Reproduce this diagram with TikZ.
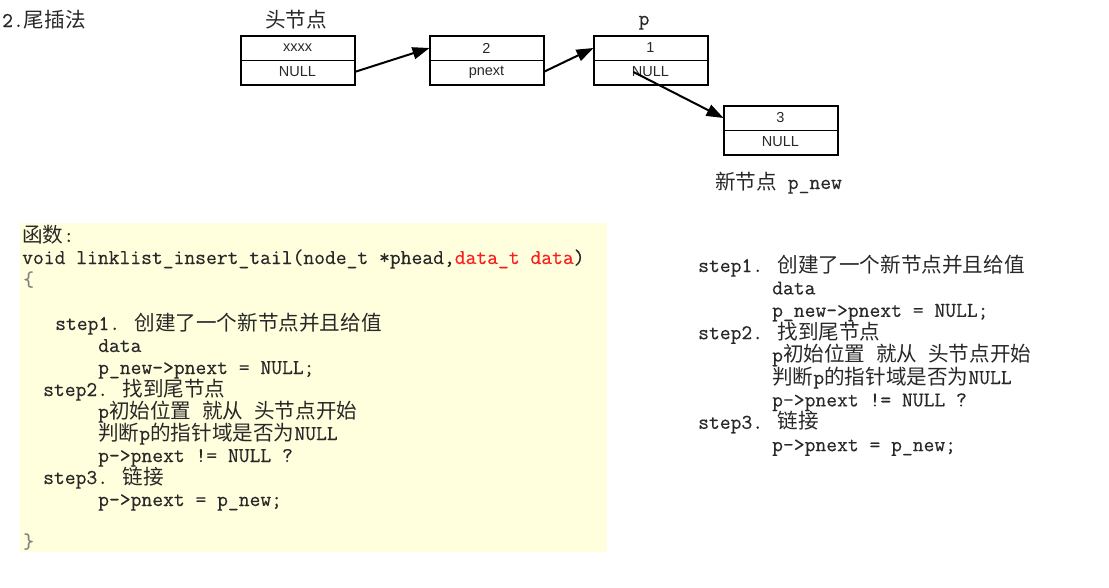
\documentclass[tikz,border=0pt]{standalone}
\usepackage{fontspec}
\usetikzlibrary{arrows.meta}
\newfontfamily\codefont{Latin Modern Mono}[FakeBold=0.4]
\newfontfamily\cjkfont{Noto Sans CJK SC}
\newfontfamily\boxfont{Liberation Sans}
\newcommand\zh[1]{{\cjkfont\fontsize{20.6pt}{22pt}\selectfont #1}}
\definecolor{codebg}{RGB}{255,255,221}
\definecolor{txt}{RGB}{40,40,40}
\definecolor{redtxt}{RGB}{250,30,30}
\tikzset{
  codeline/.style={anchor=base west, inner sep=0pt, text=txt,
    font=\codefont\fontsize{21pt}{22pt}\selectfont},
  field/.style={draw, line width=1pt, minimum width=113pt, minimum height=24pt,
    inner sep=0pt, font=\boxfont\fontsize{14.5pt}{15pt}\selectfont, text=txt},
  frame/.style={line width=2pt},
  ptr/.style={line width=2pt, -{Triangle[length=17pt,width=12pt]}},
}
\begin{document}
\begin{tikzpicture}[x=1pt,y=-1pt]
\useasboundingbox (0,0) rectangle (1109,587);
% title and labels
\node[codeline] (title) at (2,27) {2.\zh{尾插法}};
\node[codeline] (headlbl) at (265,27) {\zh{头节点}};
\node[codeline, anchor=base] (plbl) at (644,25) {p};
\node[codeline] (newlbl) at (715,189) {\zh{新节点} p\_new};
% boxes
\node[field] (headT) at (297.5,48) {xxxx};
\node[field] (headB) at (297.5,72) {NULL};
\node[field] (n2T) at (486.5,48) {2};
\node[field] (n2B) at (486.5,72) {pnext};
\node[field] (n1T) at (650.5,48) {1};
\node[field] (n1B) at (650.5,72) {NULL};
\node[field] (n3T) at (780.5,118) {3};
\node[field] (n3B) at (780.5,142) {NULL};
\foreach \b in {head,n2,n1,n3}{
  \draw[frame] (\b T.north west) rectangle (\b B.south east);
}
\coordinate (n1ptr) at ([xshift=-17pt]n1B.center);
\draw[ptr] (headB.east) -- (n2T.west);
\draw[ptr] (n2B.east) -- (n1T.west);
\draw[ptr] (n1ptr) -- (n3T.west);
% code box
\fill[codebg] (20,223) rectangle (607,552);
\node[codeline] (c1) at (22,242) {\zh{函数}:};
\node[codeline] (c2) at (22,264) {void linklist\_insert\_tail(node\_t *phead,\textcolor{redtxt}{data\_t data})};
\node[codeline, text=gray] (c3) at (23,286) {\{};
\node[codeline] (c4) at (55,330) {step1. \zh{创建了一个新节点并且给值}};
\node[codeline] (c5) at (98,352) {data};
\node[codeline] (c6) at (98,374) {p\_new->pnext = NULL;};
\node[codeline] (c7) at (43,396) {step2. \zh{找到尾节点}};
\node[codeline] (c8) at (98,418) {p\zh{初始位置} \zh{就从} \zh{头节点开始}};
\node[codeline] (c9) at (98,440) {\zh{判断}p\zh{的指针域是否为}NULL};
\node[codeline] (c10) at (98,462) {p->pnext != NULL ?};
\node[codeline] (c11) at (43,484) {step3. \zh{链接}};
\node[codeline] (c12) at (98,506) {p->pnext = p\_new;};
\node[codeline, text=gray] (c13) at (23,548) {\}};
% right text
\node[codeline] (r1) at (698,272) {step1. \zh{创建了一个新节点并且给值}};
\node[codeline] (r2) at (772,294.4) {data};
\node[codeline] (r3) at (772,316.8) {p\_new->pnext = NULL;};
\node[codeline] (r4) at (698,339.2) {step2. \zh{找到尾节点}};
\node[codeline] (r5) at (772,361.6) {p\zh{初始位置} \zh{就从} \zh{头节点开始}};
\node[codeline] (r6) at (772,384) {\zh{判断}p\zh{的指针域是否为}NULL};
\node[codeline] (r7) at (772,406.4) {p->pnext != NULL ?};
\node[codeline] (r8) at (698,428.8) {step3. \zh{链接}};
\node[codeline] (r9) at (772,451.2) {p->pnext = p\_new;};
\end{tikzpicture}
\end{document}
